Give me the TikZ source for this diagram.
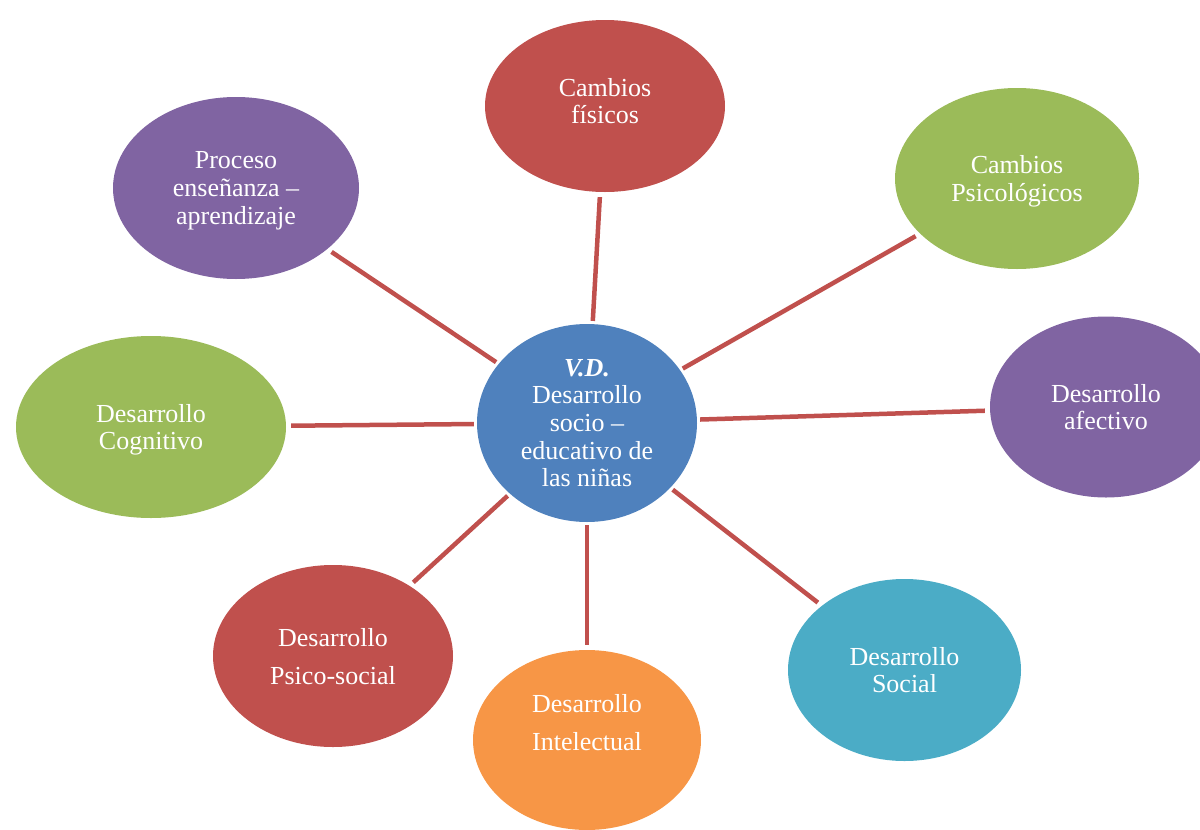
\documentclass[tikz,border=0pt]{standalone}
\usepackage{fontspec}
\setmainfont{Liberation Serif}
\usetikzlibrary{shapes.geometric}
\definecolor{cred}{HTML}{C0504D}
\definecolor{cblue}{HTML}{4F81BD}
\definecolor{cgreen}{HTML}{9BBB59}
\definecolor{cpurple}{HTML}{8064A2}
\definecolor{caqua}{HTML}{4BACC6}
\definecolor{corange}{HTML}{F79646}
\begin{document}
\begin{tikzpicture}[x=1pt,y=-1pt,
  bubble/.style={ellipse, inner sep=0pt, text=white, align=center, text depth=0pt,
    font=\fontsize{26pt}{27.7pt}\selectfont},
  wide/.style={font=\fontsize{26pt}{38pt}\selectfont},
  link/.style={draw=cred, line width=4.5pt, shorten <=3pt, shorten >=5pt}]
\useasboundingbox (0,0) rectangle (1200,830);
\node[bubble, fill=cblue, minimum width=220pt, minimum height=198pt] (vd) at (587,423)
  {\textbf{\textit{V.D.}}\\Desarrollo\\socio –\\educativo de\\las niñas};
\node[bubble, fill=cred, minimum width=240pt, minimum height=172pt, text depth=10pt] (fis) at (605,106)
  {Cambios\\físicos};
\node[bubble, fill=cgreen, minimum width=244pt, minimum height=181pt] (psi) at (1017,178.5)
  {Cambios\\Psicológicos};
\node[bubble, fill=cpurple, minimum width=232pt, minimum height=181pt] (afe) at (1106,407)
  {Desarrollo\\afectivo};
\node[bubble, fill=caqua, minimum width=233pt, minimum height=182pt] (soc) at (904.5,670)
  {Desarrollo\\Social};
\node[bubble, wide, fill=corange, minimum width=228pt, minimum height=180pt, text depth=36pt] (int) at (587,740)
  {Desarrollo\\Intelectual};
\node[bubble, wide, fill=cred, minimum width=240pt, minimum height=182pt] (pso) at (333,656)
  {Desarrollo\\Psico-social};
\node[bubble, fill=cgreen, minimum width=270pt, minimum height=182pt] (cog) at (151,427)
  {Desarrollo\\Cognitivo};
\node[bubble, fill=cpurple, minimum width=246pt, minimum height=182pt] (pro) at (236,188)
  {Proceso\\enseñanza –\\aprendizaje};
\draw[link] (vd) -- (fis);
\draw[link] (vd) -- (psi);
\draw[link] (vd) -- (afe);
\draw[link] (vd) -- (soc);
\draw[link] (vd) -- (int);
\draw[link] (vd) -- (pso);
\draw[link] (vd) -- (cog);
\draw[link] (vd) -- (pro);
\end{tikzpicture}
\end{document}
